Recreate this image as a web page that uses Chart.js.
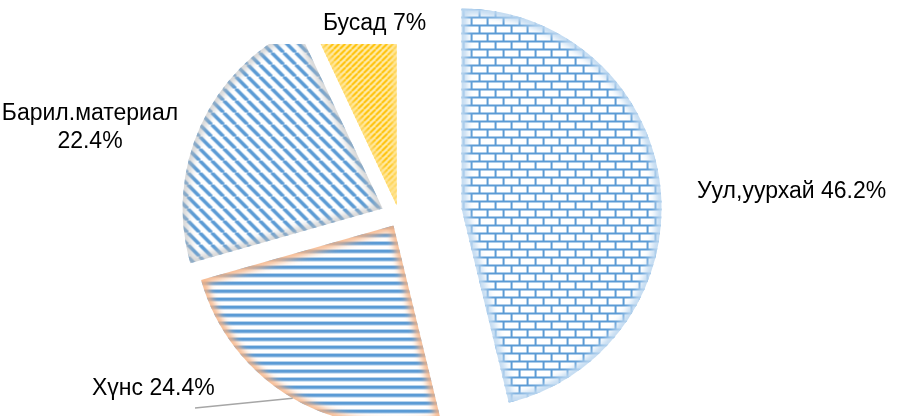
<!DOCTYPE html>
<html>
<head>
<meta charset="utf-8">
<script src="https://cdn.jsdelivr.net/npm/chart.js@4/dist/chart.umd.min.js"></script>
<style>
html,body{margin:0;padding:0;background:#fff;}
#wrap{width:900px;height:416px;position:relative;}
</style>
</head>
<body>
<div id="wrap"><canvas id="c" width="900" height="416"></canvas></div>
<script>
// ---- data ----
const categories = ['Уул,уурхай', 'Хүнс', 'Барил.материал', 'Бусад'];
const shares = [46.2, 24.4, 22.4, 7];
const labelLines = [
  ['Уул,уурхай 46.2%'],
  ['Хүнс 24.4%'],
  ['Барил.материал', '22.4%'],
  ['Бусад 7%']
];

// ---- styles ----
const explode = [63, 11, 18, 11];
const clipTop = [null, null, 44, 44];
const glowColor = ['rgba(190,216,240,0.95)', 'rgba(244,177,131,0.95)', 'rgba(185,185,185,0.6)', 'rgba(255,226,140,0.85)'];
const glowWidth = [11, 9, 10, 8];
const labelStyle = [
  {x: 697, y: 198, align: 'left'},
  {x: 92, y: 395, align: 'left'},
  {x: 90, y: 120, align: 'center', lh: 28},
  {x: 323, y: 30, align: 'left'}
];
const leaderEnd = {x: 195, y: 408};
const BLUE = '#5B9BD5';

function makePattern(w, h, painter) {
  const c = document.createElement('canvas');
  c.width = w; c.height = h;
  const g = c.getContext('2d');
  painter(g, w, h);
  return document.getElementById('c').getContext('2d').createPattern(c, 'repeat');
}
const brick = makePattern(16, 16, (g) => {
  g.fillStyle = '#fff'; g.fillRect(0, 0, 16, 16);
  g.fillStyle = BLUE;
  g.fillRect(0, 0, 16, 2); g.fillRect(0, 8, 16, 2);
  g.fillRect(0, 0, 2, 8); g.fillRect(8, 8, 2, 8);
});
const hstripe = makePattern(8, 8, (g) => {
  g.fillStyle = '#fff'; g.fillRect(0, 0, 8, 8);
  g.fillStyle = BLUE; g.fillRect(0, 0, 8, 3.5);
});
const dstripe = makePattern(12, 12, (g, s) => {
  g.fillStyle = '#fff'; g.fillRect(0, 0, s, s);
  g.strokeStyle = BLUE; g.lineWidth = 3.6;
  g.beginPath();
  for (const k of [-s, 0, s]) { g.moveTo(k, 0); g.lineTo(k + s, s); }
  g.stroke();
});
const ystripe = makePattern(6, 6, (g, s) => {
  g.fillStyle = '#FFEDB0'; g.fillRect(0, 0, s, s);
  g.strokeStyle = '#FFC000'; g.lineWidth = 2;
  g.beginPath();
  for (const k of [-s, 0, s]) { g.moveTo(k + s, 0); g.lineTo(k, s); }
  g.stroke();
});

const drawPlugin = {
  id: 'explodeDraw',
  beforeDatasetDraw(chart, args) {
    const ctx = chart.ctx;
    args.meta.data.forEach((arc, i) => {
      const mid = (arc.startAngle + arc.endAngle) / 2;
      const dx = Math.cos(mid) * explode[i], dy = Math.sin(mid) * explode[i];
      ctx.save();
      if (clipTop[i] !== null) {
        ctx.beginPath(); ctx.rect(0, clipTop[i], chart.width, chart.height); ctx.clip();
      }
      ctx.translate(dx, dy);
      arc.draw(ctx);
      ctx.beginPath();
      ctx.moveTo(arc.x, arc.y);
      ctx.arc(arc.x, arc.y, arc.outerRadius, arc.startAngle, arc.endAngle);
      ctx.closePath();
      ctx.clip();
      ctx.filter = 'blur(3px)';
      ctx.lineWidth = glowWidth[i];
      ctx.strokeStyle = glowColor[i];
      ctx.stroke();
      ctx.restore();
    });
    return false;
  },
  afterDraw(chart) {
    const ctx = chart.ctx;
    const meta = chart.getDatasetMeta(0);
    const arc = meta.data[1];
    const mid = (arc.startAngle + arc.endAngle) / 2;
    const px = arc.x + Math.cos(mid) * (explode[1] + arc.outerRadius);
    const py = arc.y + Math.sin(mid) * (explode[1] + arc.outerRadius);
    ctx.save();
    ctx.strokeStyle = '#A6A6A6'; ctx.lineWidth = 1.5;
    ctx.beginPath(); ctx.moveTo(leaderEnd.x, leaderEnd.y); ctx.lineTo(px, py); ctx.stroke();
    ctx.fillStyle = '#000';
    ctx.font = '23px "Liberation Sans", Arial, sans-serif';
    ctx.textBaseline = 'alphabetic';
    labelLines.forEach((lines, i) => {
      const st = labelStyle[i];
      ctx.textAlign = st.align;
      lines.forEach((t, j) => ctx.fillText(t, st.x, st.y + j * (st.lh || 0)));
    });
    ctx.restore();
  }
};

new Chart(document.getElementById('c'), {
  type: 'pie',
  data: {
    labels: categories,
    datasets: [{
      data: shares,
      backgroundColor: [brick, hstripe, dstripe, ystripe],
      borderWidth: 0
    }]
  },
  options: {
    responsive: false,
    animation: false,
    devicePixelRatio: 1,
    radius: 200,
    layout: {padding: {left: 0, right: 102, top: 16, bottom: 0}},
    plugins: {legend: {display: false}, tooltip: {enabled: false}}
  },
  plugins: [drawPlugin]
});
</script>
</body>
</html>
